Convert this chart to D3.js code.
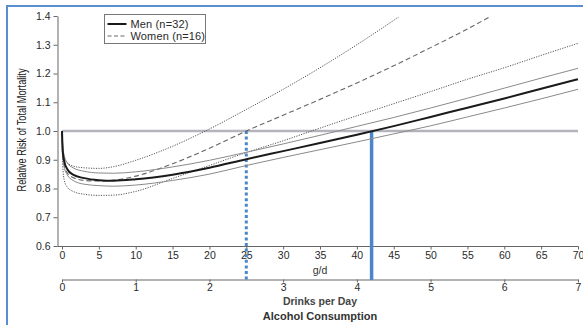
<!DOCTYPE html>
<html>
<head>
<meta charset="utf-8">
<script src="https://cdn.jsdelivr.net/npm/d3@7"></script>
<style>
  body { margin: 0; background: #fff; }
  svg { display: block; font-family: 'Liberation Sans', Arial, Helvetica, sans-serif; }
</style>
</head>
<body>
<div id="chart"></div>
<script>
// alcohol in g/d where the curves are sampled
const gramsPerDay = [0, 0.1, 0.3, 0.7, 1.5, 3, 5, 7, 10, 15, 20, 25, 30, 35, 40, 45, 50, 55, 60, 65, 70];

// relative risk
const menRR      = [1.0, 0.93, 0.895, 0.868, 0.848, 0.836, 0.829, 0.827, 0.832, 0.848, 0.872, 0.902, 0.93, 0.958, 0.987, 1.017, 1.049, 1.081, 1.113, 1.147, 1.18];
const menUpper   = [1.0, 0.95, 0.915, 0.89, 0.872, 0.86, 0.854, 0.853, 0.858, 0.875, 0.898, 0.926, 0.955, 0.985, 1.016, 1.047, 1.08, 1.114, 1.149, 1.184, 1.218];
const menLower   = [1.0, 0.91, 0.875, 0.848, 0.828, 0.815, 0.81, 0.808, 0.812, 0.828, 0.85, 0.88, 0.908, 0.935, 0.962, 0.99, 1.018, 1.049, 1.08, 1.112, 1.145];
const womenRR    = [1.0, 0.92, 0.88, 0.855, 0.838, 0.828, 0.826, 0.829, 0.843, 0.886, 0.94, 1.0, 1.055, 1.11, 1.167, 1.227, 1.29, 1.355, 1.425, 1.495, 1.57];
const womenUpper = [1.0, 0.95, 0.91, 0.89, 0.878, 0.872, 0.87, 0.876, 0.898, 0.947, 1.007, 1.075, 1.145, 1.22, 1.3, 1.385, 1.475, 1.565, 1.66, 1.76, 1.86];
const womenLower = [1.0, 0.88, 0.83, 0.805, 0.79, 0.78, 0.776, 0.777, 0.79, 0.835, 0.88, 0.925, 0.966, 1.01, 1.053, 1.095, 1.137, 1.18, 1.22, 1.263, 1.305];

// tick labels
const rrTicks = [0.6, 0.7, 0.8, 0.9, 1.0, 1.1, 1.2, 1.3, 1.4];
const gTicks = [0, 5, 10, 15, 20, 25, 30, 35, 40, 45, 50, 55, 60, 65, 70];
const drinkTicks = [0, 1, 2, 3, 4, 5, 6, 7];

// vertical markers where the curves cross RR 1.0
const crossingGrams = [25, 42];
const crossingStyle = ['dotted', 'solid'];

const legendLabels = ['Men (n=32)', 'Women (n=16)'];

const width = 583, height = 325;

const svg = d3.select('#chart').append('svg')
  .attr('width', width)
  .attr('height', height);

const x = d3.scaleLinear().domain([0, 70]).range([62, 578]);
const xDrinks = d3.scaleLinear().domain([0, 7]).range([62, 578]);
const y = d3.scaleLinear().domain([0.6, 1.4]).range([246, 16]);

// blue frame of the slide
svg.append('path')
  .attr('d', `M7,${height} V6 H${width}`)
  .attr('fill', 'none')
  .attr('stroke', '#5a8ed0')
  .attr('stroke-width', 2);

svg.append('defs').append('clipPath').attr('id', 'plot-clip')
  .append('rect')
  .attr('x', 58).attr('y', 17)
  .attr('width', 522).attr('height', 230);

// reference line at 1.0
svg.append('line')
  .attr('x1', x(0)).attr('x2', x(70))
  .attr('y1', y(1.0)).attr('y2', y(1.0))
  .attr('stroke', '#b4b4bc')
  .attr('stroke-width', 2.5);

// y axis
const yAxis = svg.append('g')
  .attr('transform', 'translate(57.5,0)')
  .call(d3.axisLeft(y).tickValues(rrTicks).tickFormat(d3.format('.1f')).tickSize(4).tickSizeOuter(0));

// g/d axis
const gAxis = svg.append('g')
  .attr('transform', `translate(0,${y(0.6) + 0.5})`)
  .call(d3.axisBottom(x).tickValues(gTicks).tickSize(3).tickSizeOuter(0));
gAxis.select('.domain').attr('d', `M57.5,0H${x(70) + 0.5}`);

// drinks axis
const dAxis = svg.append('g')
  .attr('transform', 'translate(0,279.5)')
  .call(d3.axisBottom(xDrinks).tickValues(drinkTicks).tickFormat(d3.format('d')).tickSize(3).tickSizeOuter(0));

[yAxis, gAxis, dAxis].forEach((a) => {
  a.select('.domain').attr('stroke', '#666');
  a.selectAll('.tick line').attr('stroke', '#666');
  a.selectAll('.tick text')
    .attr('fill', '#2a2a2a')
    .attr('font-size', 10.5)
    .attr('font-family', "'Liberation Sans', Arial, sans-serif");
});
yAxis.selectAll('.tick text').attr('x', -7);
gAxis.selectAll('.tick text').attr('y', 5);
dAxis.selectAll('.tick text').attr('y', 4);

// axis titles
svg.append('text')
  .attr('x', x(35)).attr('y', 274)
  .attr('text-anchor', 'middle')
  .attr('font-size', 10.5)
  .attr('fill', '#333')
  .text('g/d');

svg.append('text')
  .attr('x', 320).attr('y', 305)
  .attr('text-anchor', 'middle')
  .attr('font-size', 10.5)
  .attr('font-weight', 'bold')
  .attr('fill', '#444')
  .text('Drinks per Day');

svg.append('text')
  .attr('x', 320).attr('y', 320)
  .attr('text-anchor', 'middle')
  .attr('font-size', 11)
  .attr('font-weight', 'bold')
  .attr('fill', '#333')
  .text('Alcohol Consumption');

svg.append('text')
  .attr('transform', `translate(26,${y(1.0) - 1}) rotate(-90)`)
  .attr('text-anchor', 'middle')
  .attr('font-size', 12)
  .attr('font-family', "'Liberation Sans Narrow', 'Arial Narrow', 'Liberation Sans', sans-serif")
  .attr('textLength', 123)
  .attr('lengthAdjust', 'spacingAndGlyphs')
  .attr('fill', '#222')
  .text('Relative Risk of Total Mortality');

// blue crossing markers
svg.append('g')
  .selectAll('line')
  .data(crossingGrams)
  .join('line')
  .attr('x1', (d) => x(d)).attr('x2', (d) => x(d))
  .attr('y1', y(1.0))
  .attr('y2', 280)
  .attr('stroke', '#4a86c8')
  .attr('stroke-width', (d, i) => (crossingStyle[i] === 'solid' ? 3.5 : 3))
  .attr('stroke-dasharray', (d, i) => (crossingStyle[i] === 'solid' ? null : '3,2.6'));

// curves
const series = [
  { values: womenUpper, stroke: '#555', width: 1, dash: '1.2,1.3' },
  { values: womenLower, stroke: '#555', width: 1, dash: '1.2,1.3' },
  { values: womenRR, stroke: '#666', width: 1.1, dash: '5,3' },
  { values: menUpper, stroke: '#8a8a8a', width: 1, dash: null },
  { values: menLower, stroke: '#8a8a8a', width: 1, dash: null },
  { values: menRR, stroke: '#1a1a1a', width: 2, dash: null },
];

const line = d3.line()
  .x((d) => x(d[0]))
  .y((d) => y(d[1]))
  .curve(d3.curveMonotoneX);

svg.append('g')
  .attr('clip-path', 'url(#plot-clip)')
  .selectAll('path')
  .data(series)
  .join('path')
  .attr('d', (s) => line(gramsPerDay.map((g, i) => [g, s.values[i]])))
  .attr('fill', 'none')
  .attr('stroke', (s) => s.stroke)
  .attr('stroke-width', (s) => s.width)
  .attr('stroke-dasharray', (s) => s.dash);

// legend
const legend = svg.append('g').attr('transform', 'translate(104.5,14.5)');
legend.append('rect')
  .attr('width', 101).attr('height', 29)
  .attr('fill', '#fff')
  .attr('stroke', '#777');

legend.selectAll('line')
  .data(legendLabels)
  .join('line')
  .attr('x1', 3).attr('x2', 22)
  .attr('y1', (d, i) => 9.5 + i * 12)
  .attr('y2', (d, i) => 9.5 + i * 12)
  .attr('stroke', (d, i) => (i === 0 ? '#1a1a1a' : '#666'))
  .attr('stroke-width', (d, i) => (i === 0 ? 2 : 1.1))
  .attr('stroke-dasharray', (d, i) => (i === 0 ? null : '4,2.5'));

legend.selectAll('text')
  .data(legendLabels)
  .join('text')
  .attr('x', 26)
  .attr('y', (d, i) => 13.5 + i * 12)
  .attr('font-size', 11)
  .attr('letter-spacing', 0.15)
  .attr('fill', '#2a2a2a')
  .text((d) => d);
</script>
</body>
</html>
